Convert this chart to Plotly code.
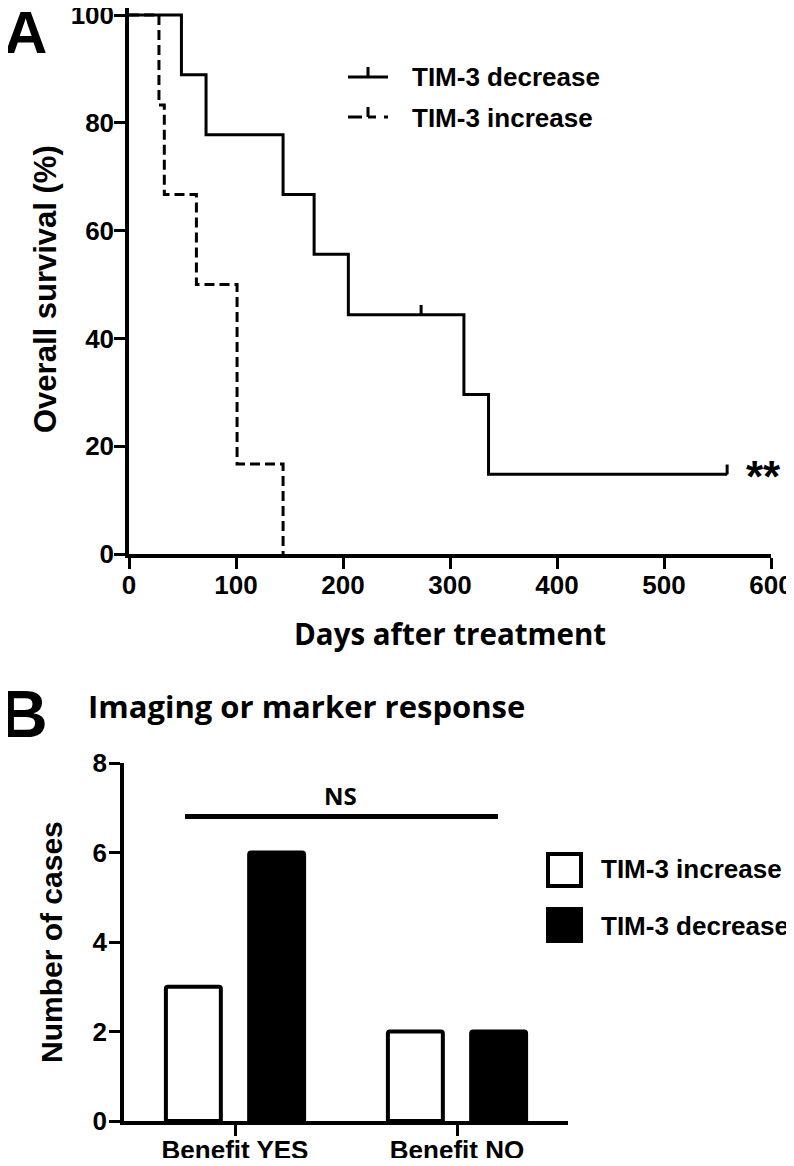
import plotly.graph_objects as go

# ---------------- data ----------------
# Panel A: Kaplan-Meier steps (days, % survival)
dec_times = [0, 49, 72, 144, 173, 205, 313, 336, 559]
dec_surv = [100, 88.9, 77.8, 66.7, 55.6, 44.4, 29.6, 14.8, 14.8]
dec_cens_times = [273, 559]
dec_cens_surv = [44.4, 14.8]

inc_times = [0, 28, 33, 63, 101, 144]
inc_surv = [100, 83.3, 66.7, 50.0, 16.7, 0]

x_ticks_a = [0, 100, 200, 300, 400, 500, 600]
y_ticks_a = [0, 20, 40, 60, 80, 100]

# Panel B: bar counts
categories = ["Benefit YES", "Benefit NO"]
increase_counts = [3, 2]
decrease_counts = [6, 2]
y_ticks_b = [0, 2, 4, 6, 8]
ns_level = 6.8

# ---------------- layout helpers ----------------
OFF = 8  # page body margin
W, H = 794 - OFF, 1166 - 2 * OFF


def fx(px):
    return (px - OFF) / W


def fy(py):
    return 1 - (py - OFF) / H


ARIAL = "Liberation Sans, Arial, sans-serif"
CAL = "Open Sans, sans-serif"

fig = go.Figure()

# Panel A traces
fig.add_trace(go.Scatter(
    x=dec_times, y=dec_surv, mode="lines", line=dict(shape="hv", color="black", width=3),
    xaxis="x", yaxis="y", showlegend=False, hoverinfo="skip"))
fig.add_trace(go.Scatter(
    x=inc_times, y=inc_surv, mode="lines",
    line=dict(shape="hv", color="black", width=3, dash="10px,5px"),
    xaxis="x", yaxis="y", showlegend=False, hoverinfo="skip"))
fig.add_trace(go.Scatter(
    x=dec_cens_times, y=dec_cens_surv, mode="markers",
    marker=dict(size=1, color="black"),
    error_y=dict(type="data", symmetric=False, array=[1.8] * len(dec_cens_times),
                 arrayminus=[0] * len(dec_cens_times), width=0, thickness=3, color="black"),
    xaxis="x", yaxis="y", showlegend=False, hoverinfo="skip"))

# Panel B traces
fig.add_trace(go.Bar(
    x=categories, y=increase_counts, name="TIM-3 increase",
    marker=dict(color="white", line=dict(color="black", width=4)),
    xaxis="x2", yaxis="y2", showlegend=False, hoverinfo="skip"))
fig.add_trace(go.Bar(
    x=categories, y=decrease_counts, name="TIM-3 decrease",
    marker=dict(color="black", line=dict(color="black", width=4)),
    xaxis="x2", yaxis="y2", showlegend=False, hoverinfo="skip"))

tickfont = dict(family=ARIAL, size=26, color="black", weight=700)
axis_common = dict(showgrid=False, zeroline=False, showline=True, linecolor="black",
                   linewidth=3.5, ticks="outside", ticklen=11, tickwidth=3, tickcolor="black",
                   tickfont=tickfont, automargin=False, fixedrange=True,
                   ticklabeloverflow="allow")

fig.update_layout(
    width=W, height=H, margin=dict(l=0, r=0, t=0, b=0),
    paper_bgcolor="white", plot_bgcolor="white",
    barmode="group", bargap=0.25, bargroupgap=0.34, barcornerradius=2,
    xaxis=dict(domain=[fx(129), fx(771)], range=[0, 600], tickvals=x_ticks_a,
               anchor="y", ticklabelstandoff=-6, **axis_common),
    yaxis=dict(domain=[fy(554), 1.0], range=[0, (554 - OFF) / 5.39], tickvals=y_ticks_a,
               anchor="x", ticklabelstandoff=-5, **axis_common),
    xaxis2=dict(domain=[fx(124), fx(568)], range=[-0.5, 1.5], anchor="y2",
                type="category", ticklabelstandoff=-8, **axis_common),
    yaxis2=dict(domain=[fy(1121), fy(763)], range=[0, 8], tickvals=y_ticks_b,
                anchor="x2", ticklabelstandoff=-3, **axis_common),
)

ann = []


def text(t, x, y, size, family=ARIAL, xanchor="center", yanchor="middle", angle=0):
    ann.append(dict(text=t, x=fx(x), y=fy(y), xref="paper", yref="paper",
                    xanchor=xanchor, yanchor=yanchor, showarrow=False, textangle=angle,
                    font=dict(family=family, size=size, color="black", weight=700)))


text("A", 25, 32, 60)
text("B", 24, 714, 66)
text("Overall survival (%)", 46, 289, 31, angle=-90)
text("Days after treatment", 450, 633, 29.5, family=CAL)
text("TIM-3 decrease", 410, 77, 26, xanchor="left")
text("TIM-3 increase", 410, 118, 26, xanchor="left")
text("**", 763, 476, 44)
text("Imaging or marker response", 86, 706, 31, family=CAL, xanchor="left")
text("NS", 340, 795, 24, family=CAL)
text("Number of cases", 51, 942, 30, angle=-90)
text("TIM-3 increase", 599, 869, 26, xanchor="left")
text("TIM-3 decrease", 599, 926, 26, xanchor="left")
fig.update_layout(annotations=ann)

shapes = []


def seg(x0, y0, x1, y1, w=3):
    shapes.append(dict(type="line", xref="paper", yref="paper",
                       x0=fx(x0), y0=fy(y0), x1=fx(x1), y1=fy(y1),
                       line=dict(color="black", width=w)))


# top legend symbols
seg(348, 77, 388, 77)
seg(368, 67, 368, 77)
seg(348, 117, 362, 117)
seg(368, 107, 368, 117)
seg(368, 117, 376, 117)
seg(384, 117, 388, 117)
# NS bar
seg(185, 816.5, 498, 816.5, 5)
# bottom legend boxes
shapes.append(dict(type="rect", xref="paper", yref="paper", x0=fx(548), x1=fx(581),
                   y0=fy(886), y1=fy(854), fillcolor="white", line=dict(color="black", width=4)))
shapes.append(dict(type="rect", xref="paper", yref="paper", x0=fx(548), x1=fx(581),
                   y0=fy(941), y1=fy(909), fillcolor="black", line=dict(color="black", width=4)))
fig.update_layout(shapes=shapes)

fig.write_html("out.html")
